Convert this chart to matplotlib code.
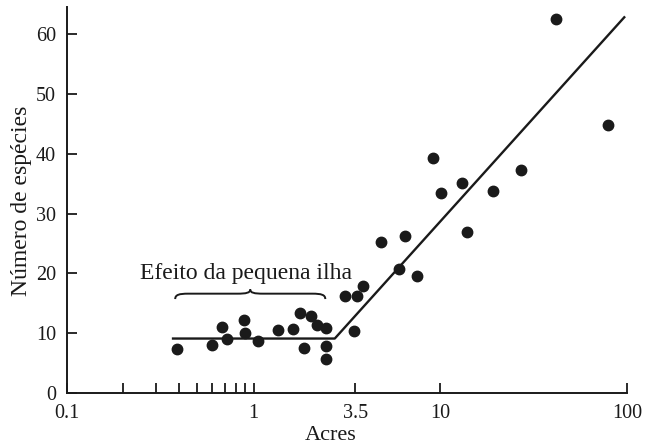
import matplotlib.pyplot as plt
import numpy as np
from matplotlib.path import Path
from matplotlib.patches import PathPatch

# pontos observados (área em acres, número de espécies)
acres = [0.39, 0.60, 0.68, 0.72, 0.89, 0.90, 1.06, 1.35, 1.63, 1.77, 1.85, 2.02, 2.19,
         2.43, 2.43, 2.43, 3.10, 3.43, 3.58, 3.86, 4.81, 6.01, 6.48, 7.53, 9.1, 10.1,
         13.1, 13.9, 19.1, 26.9, 41.6, 79.6]
especies = [7.3, 8.0, 11.1, 9.1, 12.2, 10.1, 8.7, 10.5, 10.7, 13.4, 7.6, 12.8, 11.3,
            10.9, 7.8, 5.7, 16.2, 10.4, 16.2, 17.8, 25.2, 20.7, 26.2, 19.5, 39.2, 33.4,
            35.1, 26.9, 33.7, 37.2, 62.5, 44.8]

# reta ajustada (trecho plano + trecho crescente)
reta_x = [0.37, 2.72, 96.7]
reta_y = [9.1, 9.1, 62.8]

xticks = [0.1, 1, 3.5, 10, 100]
xtick_labels = ["0.1", "1", "3.5", "10", "100"]
xminor = [0.2, 0.3, 0.4, 0.5, 0.6, 0.7, 0.8, 0.9]
yticks = [0, 10, 20, 30, 40, 50, 60]

brace_x = [0.38, 2.42]
brace_y = 16.6

ink = "#1a1a1a"
plt.rcParams["font.family"] = ["Liberation Serif", "DejaVu Serif"]


def curly_brace(ax, x0, x1, y, h_end, h_tip, q=0.07):
    u0, u1 = np.log10(x0), np.log10(x1)
    um = (u0 + u1) / 2
    pts = [
        (u0, y - h_end),
        (u0, y - h_end * 0.2), (u0 + q * 0.3, y), (u0 + q, y),
        (um - q, y),
        (um - q * 0.3, y), (um, y + h_tip * 0.2), (um, y + h_tip),
        (um, y + h_tip * 0.2), (um + q * 0.3, y), (um + q, y),
        (u1 - q, y),
        (u1 - q * 0.3, y), (u1, y - h_end * 0.2), (u1, y - h_end),
    ]
    codes = ([Path.MOVETO] + [Path.CURVE4] * 3 + [Path.LINETO] + [Path.CURVE4] * 6
             + [Path.LINETO] + [Path.CURVE4] * 3)
    verts = [(10 ** u, v) for u, v in pts]
    ax.add_patch(PathPatch(Path(verts, codes), fill=False, color=ink, lw=1.4))


fig = plt.figure(figsize=(6.54, 4.44), dpi=100)
ax = fig.add_axes([0.1024, 0.1149, 0.8563, 0.8691])

ax.plot(reta_x, reta_y, color=ink, lw=1.7)
ax.plot(acres, especies, "o", color=ink, markersize=7.5)

ax.set_xscale("log")
ax.set_xlim(0.1, 100)
ax.set_ylim(0, 64.5)
ax.set_xticks(xticks)
ax.set_xticklabels(xtick_labels)
ax.set_xticks(xminor, minor=True)
ax.xaxis.set_minor_formatter(plt.NullFormatter())
ax.set_yticks(yticks)

ax.spines["top"].set_visible(False)
ax.spines["right"].set_visible(False)
for s in ["left", "bottom"]:
    ax.spines[s].set_linewidth(1.4)
    ax.spines[s].set_color(ink)

ax.tick_params(axis="both", which="both", direction="in", length=7, width=1.3,
               colors=ink, labelsize=14.5)
ax.tick_params(axis="x", which="major", pad=8)
ax.tick_params(axis="y", which="major", pad=8)

ax.set_xlabel("Acres", fontsize=16, color=ink)
ax.set_ylabel("Número de espécies", fontsize=17, color=ink)
ax.xaxis.set_label_coords(0.471, -0.085)
ax.yaxis.set_label_coords(-0.062, 0.497)

curly_brace(ax, brace_x[0], brace_x[1], brace_y, 0.9, 0.7)
ax.text(0.91, 19.0, "Efeito da pequena ilha", fontsize=17, color=ink,
        ha="center", va="baseline")

fig.savefig("out.png", dpi=100)
